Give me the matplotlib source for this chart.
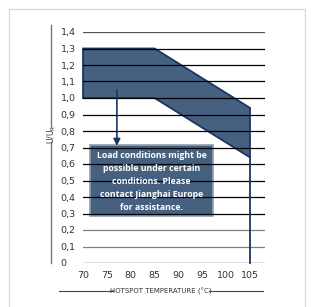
import matplotlib
matplotlib.use("Agg")
import matplotlib.pyplot as plt
from matplotlib.patches import Polygon, Rectangle
from matplotlib.lines import Line2D

# === Datos ===
temp_ticks = [70, 75, 80, 85, 90, 95, 100, 105]
u_ticks = [0, 0.1, 0.2, 0.3, 0.4, 0.5, 0.6, 0.7, 0.8, 0.9, 1.0, 1.1, 1.2, 1.3, 1.4]
u_labels = ["0", "0,1", "0,2", "0,3", "0,4", "0,5", "0,6", "0,7", "0,8", "0,9",
            "1,0", "1,1", "1,2", "1,3", "1,4"]

# zona de operación (temperatura, U/UR)
zone_temp = [70, 85, 105, 105, 85, 70]
zone_u = [1.3, 1.3, 0.94, 0.64, 1.0, 1.0]

arrow_temp = 77.1
arrow_from, arrow_to = 1.05, 0.71
box_temp = (71.5, 97.2)
box_u = (0.285, 0.715)
note = ("Load conditions might be\npossible under certain\nconditions. Please\n"
        "contact Jianghai Europe\nfor assistance.")

NAVY = "#1b3560"
FILL = "#46607f"
W, H = 312, 307
narrow = ["Liberation Sans Narrow", "DejaVu Sans"]

fig = plt.figure(figsize=(W / 100, H / 100), dpi=100)
fig.patch.set_facecolor("white")

def px(x, y):
    return x / W, 1 - y / H

# marco exterior
fig.add_artist(Rectangle(px(9, 320), 296 / W, 311 / H, transform=fig.transFigure,
                         fill=False, edgecolor="#d9d9d9", lw=1))

ax = fig.add_axes([83 / W, 44 / H, 182 / W, 231 / H])
ax.set_xlim(70, 108.14)
ax.set_ylim(0, 1.4)
for s in ax.spines.values():
    s.set_visible(False)

# === Líneas horizontales ===
for v in u_ticks:
    if v >= 1.35:
        c = "#555555"
    elif 0.05 < v < 0.25:
        c = "#808080"
    else:
        c = "black"
    ax.axhline(v, color=c, lw=0.9, zorder=3)

# === Zona ===
ax.add_patch(Polygon(list(zip(zone_temp, zone_u)), closed=True, facecolor=FILL,
                     edgecolor=NAVY, lw=1.3, zorder=2, clip_on=False))
ax.plot([105, 105], [0, zone_u[3]], color=NAVY, lw=1.3, zorder=4, clip_on=False)

ax.annotate("", xy=(arrow_temp, arrow_to), xytext=(arrow_temp, arrow_from),
            arrowprops=dict(arrowstyle="-|>", color=NAVY, lw=1.2,
                            mutation_scale=10, shrinkA=0, shrinkB=0), zorder=4)

# === Cuadro de texto ===
ax.add_patch(Rectangle((box_temp[0], box_u[0]), box_temp[1] - box_temp[0],
                       box_u[1] - box_u[0], facecolor=FILL, edgecolor="#8fa0b5",
                       lw=1.2, zorder=2))
ax.text(sum(box_temp) / 2, 0.493, note, ha="center", va="center",
        color="white", fontsize=6.3, fontweight="bold", family=["Open Sans", "DejaVu Sans"],
        linespacing=1.55, zorder=5)

# === Ejes ===
ax.set_xticks(temp_ticks)
ax.set_xticklabels([str(t) for t in temp_ticks], family=narrow, fontsize=6.8, color="#333333")
ax.set_yticks(u_ticks)
ax.set_yticklabels(u_labels, family=narrow, fontsize=6.8, color="#333333", ha="left")
ax.tick_params(axis="x", length=0, pad=6)
ax.tick_params(axis="y", length=0, pad=16)

# etiqueta eje Y
fig.text(*px(52, 134), "U/U$_\\mathregular{R}$", rotation=90, ha="center", va="center",
         family=narrow, fontsize=5.5, color="#333333")
fig.add_artist(Line2D([51 / W] * 2, [1 - 25 / H, 1 - 127 / H], color="#777777", lw=1))
fig.add_artist(Line2D([51 / W] * 2, [1 - 142 / H, 1 - 263 / H], color="#777777", lw=1))

# etiqueta eje X
fig.text(*px(161, 291), "HOTSPOT TEMPERATURE (°C)", ha="center", va="center",
         family=narrow, fontsize=5, color="#333333")
fig.add_artist(Line2D([59 / W, 113 / W], [1 - 291 / H] * 2, color="#444444", lw=0.8))
fig.add_artist(Line2D([209 / W, 263 / W], [1 - 291 / H] * 2, color="#444444", lw=0.8))

fig.savefig("out.png", dpi=100)
